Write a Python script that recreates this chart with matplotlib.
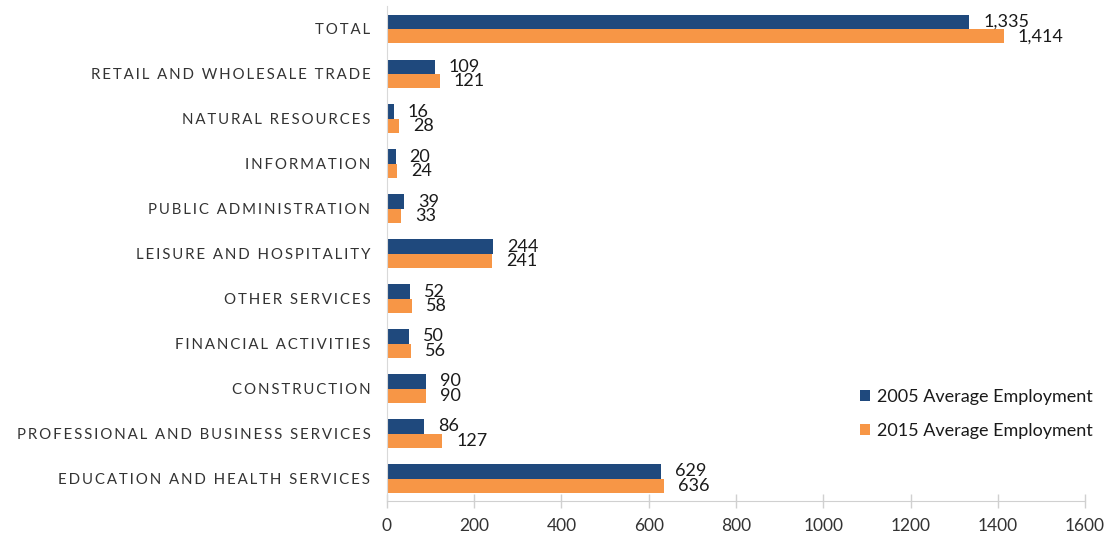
import numpy as np
import matplotlib
matplotlib.use("Agg")
import matplotlib.pyplot as plt

plt.rcParams['font.family'] = ['Lato', 'DejaVu Sans']

categories = [
    "TOTAL",
    "RETAIL AND WHOLESALE TRADE",
    "NATURAL RESOURCES",
    "INFORMATION",
    "PUBLIC ADMINISTRATION",
    "LEISURE AND HOSPITALITY",
    "OTHER SERVICES",
    "FINANCIAL ACTIVITIES",
    "CONSTRUCTION",
    "PROFESSIONAL AND BUSINESS SERVICES",
    "EDUCATION AND HEALTH SERVICES",
]
emp_2005 = [1335, 109, 16, 20, 39, 244, 52, 50, 90, 86, 629]
emp_2015 = [1414, 121, 28, 24, 33, 241, 58, 56, 90, 127, 636]
series_names = ["2005 Average Employment", "2015 Average Employment"]

NAVY = "#1F497D"
ORANGE = "#F79646"
TEXT = "#333333"


def spaced(s):
    # fake letter spacing like the original
    return "\u2009".join(s).replace("\u2009 \u2009", "  ")


fig = plt.figure(figsize=(11.1, 5.4), dpi=100)
ax = fig.add_axes([0.3486, 0.0722, 0.6289, 0.9158])

y = np.arange(len(categories))
h = 0.32
b1 = ax.barh(y - h / 2, emp_2005, height=h, color=NAVY, label=series_names[0])
b2 = ax.barh(y + h / 2, emp_2015, height=h, color=ORANGE, label=series_names[1])

for bars in (b1, b2):
    for rect in bars:
        w = rect.get_width()
        ax.annotate(f"{w:,.0f}", (w, rect.get_y() + rect.get_height() / 2),
                    xytext=(10, 0), textcoords="offset points",
                    ha="left", va="center", fontsize=13, color="#1a1a1a")

ax.set_yticks(y)
ax.set_yticklabels([spaced(c) for c in categories], fontsize=10.8, color=TEXT)
ax.set_ylim(len(categories) - 0.5, -0.5)
ax.set_xlim(0, 1600)
ax.set_xticks(np.arange(0, 1601, 200))
ax.tick_params(axis='x', labelsize=12.5, colors="#D0D0D0",
               direction="inout", length=10, width=1, pad=7)
for lab in ax.get_xticklabels():
    lab.set_color(TEXT)
ax.tick_params(axis='y', length=0, pad=12)

for side in ("top", "right"):
    ax.spines[side].set_visible(False)
ax.spines["left"].set_color("#D9D9D9")
ax.spines["bottom"].set_color("#D0D0D0")

leg = ax.legend(loc="lower right", bbox_to_anchor=(1.035, 0.093), frameon=False,
                fontsize=13, handlelength=0.55, handleheight=0.55,
                handletextpad=0.4, labelspacing=1.0)
for t in leg.get_texts():
    t.set_color("#1a1a1a")

fig.savefig("out.png", dpi=100)
